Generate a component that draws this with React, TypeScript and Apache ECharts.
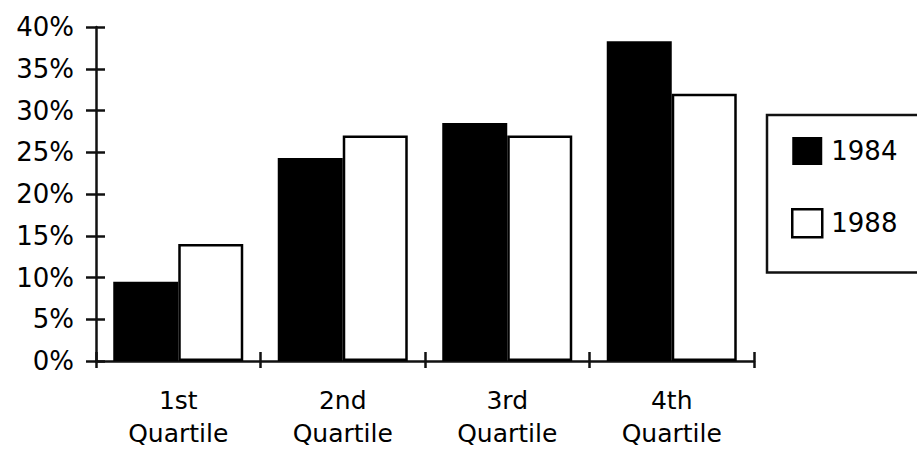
import React, { useEffect, useRef } from "react";
import * as echarts from "echarts";

const categories = ["1st\nQuartile", "2nd\nQuartile", "3rd\nQuartile", "4th\nQuartile"];
const values1984 = [9.5, 24.3, 28.5, 38.3];
const values1988 = [14, 27, 27, 32];
const seriesNames = ["1984", "1988"];

const FONT = "DejaVu Sans";
const INK = "#111";

export default function App() {
  const ref = useRef<HTMLDivElement>(null);

  useEffect(() => {
    if (!ref.current) return;
    const chart = echarts.init(ref.current, undefined, { renderer: "svg" });
    const yBase = {
      type: "value" as const,
      min: 0,
      max: 40,
      interval: 5,
      position: "left" as const,
      splitLine: { show: false },
    };
    chart.setOption({
      animation: false,
      backgroundColor: "#fff",
      grid: { left: 96, right: 163, top: 27, bottom: 91, outerBoundsMode: "none", containLabel: false },
      legend: {
        orient: "vertical",
        left: 767,
        top: 115,
        padding: [22, 70, 34, 24],
        itemWidth: 30,
        itemHeight: 28,
        itemGap: 43,
        borderColor: INK,
        borderWidth: 2.5,
        icon: "rect",
        textStyle: { fontSize: 26, fontFamily: FONT, color: "#000", padding: [0, 0, 0, 4] },
        data: [
          { name: seriesNames[0], itemStyle: { color: "#000" } },
          { name: seriesNames[1], itemStyle: { color: "#fff", borderColor: "#000", borderWidth: 2.5 } },
        ],
      },
      xAxis: [
        {
          type: "category",
          data: categories,
          position: "bottom",
          boundaryGap: true,
          axisLine: { show: true, lineStyle: { color: INK, width: 2.5 } },
          axisTick: { show: true, length: 7, lineStyle: { color: INK, width: 2.5 } },
          axisLabel: {
            fontSize: 25,
            fontFamily: FONT,
            color: "#000",
            lineHeight: 33,
            margin: 23,
          },
        },
        {
          type: "category",
          data: categories,
          position: "bottom",
          boundaryGap: true,
          axisLine: { show: false },
          axisTick: { show: true, inside: true, length: 9, lineStyle: { color: INK, width: 2.5 } },
          axisLabel: { show: false },
        },
      ],
      yAxis: [
        {
          ...yBase,
          axisLine: { show: true, lineStyle: { color: INK, width: 2.5 } },
          axisTick: { show: true, length: 10, lineStyle: { color: INK, width: 2.5 } },
          axisLabel: {
            fontSize: 26,
            fontFamily: FONT,
            color: "#000",
            margin: 22,
            formatter: "{value}%",
          },
        },
        {
          ...yBase,
          axisLine: { show: false },
          axisTick: { show: true, inside: true, length: 9, lineStyle: { color: INK, width: 2.5 } },
          axisLabel: { show: false },
        },
      ],
      series: [
        {
          name: seriesNames[0],
          type: "bar",
          data: values1984,
          barWidth: 65,
          barGap: "0%",
          itemStyle: { color: "#000" },
        },
        {
          name: seriesNames[1],
          type: "bar",
          data: values1988,
          barWidth: 65,
          barGap: "0%",
          itemStyle: { color: "#fff", borderColor: "#000", borderWidth: 2.5 },
        },
      ],
    });
    return () => chart.dispose();
  }, []);

  return (
    <div
      ref={ref}
      style={{ position: "absolute", left: 0, top: 0, width: 917, height: 452 }}
    />
  );
}
